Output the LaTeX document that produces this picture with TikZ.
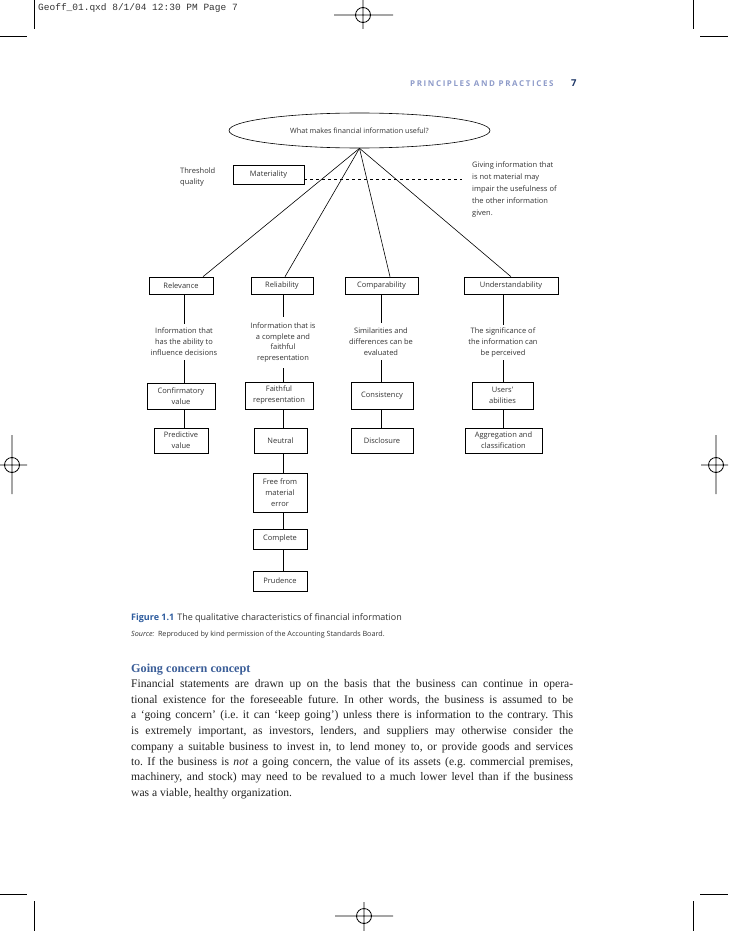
\documentclass[tikz,border=0pt]{standalone}
\usepackage{fontspec}
\setmainfont{Liberation Serif}
\newfontfamily\diagfont{Open Sans}
\newfontfamily\codefont{Liberation Mono}
\newfontfamily\hdrfont[LetterSpace=20]{Open Sans}
\newfontfamily\capfont{Open Sans}
\usetikzlibrary{shapes.geometric,calc}
\definecolor{dtext}{HTML}{333333}
\definecolor{figblue}{HTML}{2E5C9E}
\definecolor{hdrblue}{HTML}{8E9BC9}
\definecolor{pgblue}{HTML}{1C3566}
\definecolor{headblue}{HTML}{3B5E98}
\definecolor{bodytext}{HTML}{222222}
\tikzset{
  dfont/.style={font=\diagfont\fontsize{7.5}{11}\selectfont},
  box/.style={draw, line width=0.6pt, inner sep=0pt, align=center, dfont, text=dtext},
  desc/.style={inner sep=0pt, align=center, dfont, text=dtext},
  conn/.style={line width=0.6pt},
  cropmark/.style={line width=0.8pt},
  bodyline/.style={anchor=base west, inner sep=0pt, text=bodytext, font=\frenchspacing\fontsize{11.6}{15}\selectfont}
}
\begin{document}
\begin{tikzpicture}[x=1pt,y=-1pt]
\useasboundingbox (0,0) rectangle (728,931);
% crop and registration marks
\draw[cropmark] (34,0) -- (34,29) (0,36) -- (27,36);
\draw[cropmark] (693,0) -- (693,29) (700,36) -- (728,36);
\draw[cropmark] (34,901) -- (34,931) (0,894) -- (27,894);
\draw[cropmark] (693,901) -- (693,931) (700,894) -- (728,894);
\draw[cropmark] (363,15) circle[radius=7.5] (334,15) -- (393,15) (363,0) -- (363,29);
\draw[cropmark] (364,916) circle[radius=7.5] (335,916) -- (393,916) (364,902) -- (364,931);
\draw[cropmark] (12,465) circle[radius=7.5] (0,465) -- (27,465) (12,435) -- (12,494);
\draw[cropmark] (716,465) circle[radius=7.5] (701,465) -- (728,465) (716,435) -- (716,494);
% slug and running head
\node[anchor=base west, inner sep=0pt, text=dtext, font=\codefont\fontsize{9.5}{11}\selectfont] (slug) at (38,11) {Geoff\_01.qxd 8/1/04 12:30 PM Page 7};
\node[anchor=base west, inner sep=0pt, text=hdrblue, font=\hdrfont\bfseries\fontsize{8}{9}\selectfont] (rhead) at (410,86.5) {PRINCIPLES AND PRACTICES};
\node[anchor=base west, inner sep=0pt, text=pgblue, font=\capfont\bfseries\fontsize{9.5}{10}\selectfont] (pagenum) at (571,86.5) {7};

% diagram
\node[ellipse, draw, line width=0.6pt, minimum width=261, minimum height=35, inner sep=0pt, font=\diagfont\fontsize{7.2}{11}\selectfont, text=dtext] (q) at (359.5,130.5) {What makes financial information useful?};
\node[box, minimum width=71, minimum height=19] (mat) at (268.5,174.5) {Materiality};
\node[desc, anchor=west, align=left, font=\diagfont\fontsize{7.5}{10.5}\selectfont] (thr) at (180,177) {Threshold\\quality};
\node[desc, anchor=north west, align=left, font=\diagfont\fontsize{7.5}{12}\selectfont] (give) at (472,161.5) {Giving information that\\is not material may\\impair the usefulness of\\the other information\\given.};
\coordinate (dashend) at (462,179);
\draw[conn, dashed] ($(mat.east)+(0,4.5)$) -- (dashend);

\node[box, minimum width=64, minimum height=17] (rel) at (181,285.5) {Relevance};
\node[box, minimum width=62, minimum height=17] (relb) at (282,285.5) {Reliability};
\node[box, minimum width=73, minimum height=17] (comp) at (381.5,285.5) {Comparability};
\node[box, minimum width=94, minimum height=17] (und) at (511,285.5) {Understandability};

\draw[conn] (q.south) -- ($(rel.north)+(22,0)$);
\draw[conn] (q.south) -- ($(relb.north)+(3,0)$);
\draw[conn] (q.south) -- ($(comp.north)+(8.5,0)$);
\draw[conn] (q.south) -- (und.north);

% column 1
\node[desc, minimum height=36] (reld) at (184,342) {Information that\\has the ability to\\influence decisions};
\node[box, minimum width=68, minimum height=26] (conf) at (181,396) {Confirmatory\\value};
\node[box, minimum width=54, minimum height=25] (pred) at (181,440.5) {Predictive\\value};
\draw[conn] (rel.south -| reld.north) -- (reld.north);
\draw[conn] (reld.south) -- (reld.south |- conf.north);
\draw[conn] (conf.south -| reld.south) -- (pred.north -| reld.south);

% column 2
\node[desc, minimum height=51, font=\diagfont\fontsize{7.5}{10.7}\selectfont] (relbd) at (283,342.5) {Information that is\\a complete and\\faithful\\representation};
\node[box, minimum width=68, minimum height=27] (faith) at (279,395.5) {Faithful\\representation};
\node[box, minimum width=53, minimum height=25] (neut) at (280.5,440.5) {Neutral};
\node[box, minimum width=54, minimum height=39] (free) at (280,492.5) {Free from\\material\\error};
\node[box, minimum width=54, minimum height=20] (compl) at (280,539) {Complete};
\node[box, minimum width=54, minimum height=20] (prud) at (280,581) {Prudence};
\draw[conn] (relb.south -| relbd.north) -- (relbd.north);
\draw[conn] (relbd.south) -- (relbd.south |- faith.north);
\draw[conn] (faith.south -| relbd.south) -- (neut.north -| relbd.south);
\draw[conn] (neut.south -| relbd.south) -- (free.north -| relbd.south);
\draw[conn] (free.south -| relbd.south) -- (compl.north -| relbd.south);
\draw[conn] (compl.south -| relbd.south) -- (prud.north -| relbd.south);

% column 3
\node[desc, minimum height=37] (compd) at (381,341.5) {Similarities and\\differences can be\\evaluated};
\node[box, minimum width=62, minimum height=27] (cons) at (382,395.5) {Consistency};
\node[box, minimum width=62, minimum height=25] (disc) at (382,440.5) {Disclosure};
\draw[conn] (comp.south -| compd.north) -- (compd.north);
\draw[conn] (compd.south) -- (compd.south |- cons.north);
\draw[conn] (cons.south -| compd.south) -- (disc.north -| compd.south);

% column 4
\node[desc, minimum height=35] (undd) at (503,342.5) {The significance of\\the information can\\be perceived};
\node[box, minimum width=61, minimum height=27] (users) at (502.5,395.5) {Users’\\abilities};
\node[box, minimum width=77, minimum height=25] (aggr) at (503.5,440.5) {Aggregation and\\classification};
\draw[conn] (und.south -| undd.north) -- (undd.north);
\draw[conn] (undd.south) -- (undd.south |- users.north);
\draw[conn] (users.south -| undd.south) -- (aggr.north -| undd.south);

% caption
\node[anchor=base west, inner sep=0pt, font=\capfont\fontsize{9}{10}\selectfont, text=dtext] (cap) at (131,620) {\textcolor{figblue}{\bfseries Figure 1.1}\hspace{3pt}The qualitative characteristics of financial information};
\node[anchor=base west, inner sep=0pt, font=\capfont\fontsize{7.2}{8}\selectfont, text=dtext] (src) at (131,636) {\itshape Source:\upshape\hspace{1pt} Reproduced by kind permission of the Accounting Standards Board.};

% body
\node[anchor=base west, inner sep=0pt, text=headblue, font=\bfseries\fontsize{12.2}{14}\selectfont] (head) at (131,672) {Going concern concept};
\node[bodyline] (b1) at (131,687) {\makebox[442pt][s]{Financial statements are drawn up on the basis that the business can continue in opera-}};
\node[bodyline] (b2) at (131,703) {\makebox[442pt][s]{tional existence for the foreseeable future. In other words, the business is assumed to be}};
\node[bodyline] (b3) at (131,718) {\makebox[442pt][s]{a ‘going concern’ (i.e. it can ‘keep going’) unless there is information to the contrary. This}};
\node[bodyline] (b4) at (131,734) {\makebox[442pt][s]{is extremely important, as investors, lenders, and suppliers may otherwise consider the}};
\node[bodyline] (b5) at (131,750) {\makebox[442pt][s]{company a suitable business to invest in, to lend money to, or provide goods and services}};
\node[bodyline] (b6) at (131,765) {\makebox[442pt][s]{to. If the business is \textit{not} a going concern, the value of its assets (e.g. commercial premises,}};
\node[bodyline] (b7) at (131,780) {\makebox[442pt][s]{machinery, and stock) may need to be revalued to a much lower level than if the business}};
\node[bodyline] (b8) at (131,796) {was a viable, healthy organization.};
\end{tikzpicture}
\end{document}
